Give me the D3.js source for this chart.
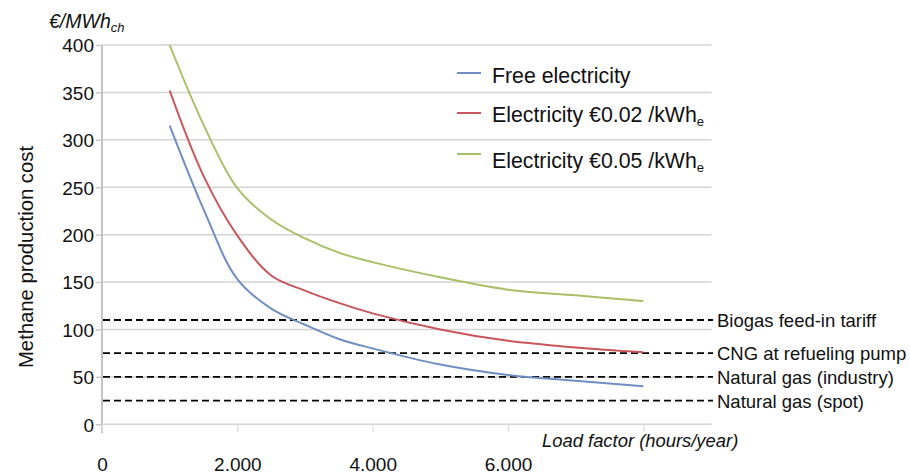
<!DOCTYPE html>
<html><head><meta charset="utf-8">
<script src="https://cdn.jsdelivr.net/npm/d3@7"></script>
<style>
html,body{margin:0;padding:0;background:#fff;}
text{font-family:"Liberation Sans",Arial,sans-serif;fill:#111;}
</style></head>
<body><svg id="c" width="910" height="476"></svg>
<script>
// ---- data ----
const hours = [1000,1500,2000,2500,3000,3500,4000,5000,6000,7000,8000];
const freeElec = [315,227,153,122,105,90,80,63,52,46,40];
const elec002 = [352,262,199,157,141,128,117,100,88,81,76];
const elec005 = [400,316,249,216,196,181,171,155,142,136,130];
const seriesNames = ["Free electricity","Electricity €0.02 /kWh","Electricity €0.05 /kWh"];
const refValues = [110,75,50,25];
const refLabels = ["Biogas feed-in tariff","CNG at refueling pump","Natural gas (industry)","Natural gas (spot)"];
const yTicks = [0,50,100,150,200,250,300,350,400];
const xTicks = [0,2000,4000,6000];

const svg = d3.select("#c");
const x = d3.scaleLinear().domain([0,9000]).range([102,711]);
const y = d3.scaleLinear().domain([0,400]).range([424.3,45]);
const colors = ["#6f8fc2","#c8565b","#a8c068"];

// gridlines
svg.append("g").selectAll("line").data(yTicks).join("line")
  .attr("x1",x(0)).attr("x2",711.5).attr("y1",d=>y(d)).attr("y2",d=>y(d))
  .attr("stroke","#d4d4d4").attr("stroke-width",1.5);

// y axis
const yAxis = svg.append("g").attr("transform",`translate(${x(0)},0)`)
  .call(d3.axisLeft(y).tickValues(yTicks).tickSize(6).tickPadding(2));
yAxis.select(".domain").remove();
yAxis.selectAll(".tick line").attr("stroke","#c8c8c8").attr("stroke-width",1.5);
yAxis.selectAll(".tick text").attr("font-size",19).attr("fill","#111").attr("dy","0.36em")
  .style("font-family","'Liberation Sans',Arial,sans-serif");
svg.append("line").attr("x1",x(0)).attr("x2",x(0)).attr("y1",y(400)).attr("y2",433)
  .attr("stroke","#c4c4c4").attr("stroke-width",2);

// x axis
const loc = d3.formatLocale({decimal:",",thousands:".",grouping:[3],currency:["",""]});
const xAxis = svg.append("g").attr("transform",`translate(0,${y(0)})`)
  .call(d3.axisBottom(x).tickValues([0,2000,4000,6000,8000]).tickSize(8).tickFormat(d=>xTicks.includes(d)?loc.format(",")(d):""));
xAxis.select(".domain").remove();
xAxis.selectAll(".tick line").attr("stroke","#e2e2e2").attr("stroke-width",1.5);
xAxis.selectAll(".tick text").attr("font-size",19).attr("fill","#111").attr("y",46.5).attr("dy",0)
  .style("font-family","'Liberation Sans',Arial,sans-serif");

// reference dashed lines
svg.append("g").selectAll("line").data(refValues).join("line")
  .attr("x1",x(0)+1).attr("x2",713).attr("y1",d=>y(d)).attr("y2",d=>y(d))
  .attr("stroke","#000").attr("stroke-width",1.8).attr("stroke-dasharray","7,4");
svg.append("g").selectAll("text").data(refValues).join("text")
  .attr("x",717).attr("y",d=>y(d)).attr("dy","0.38em").attr("font-size",18.5)
  .text((d,i)=>refLabels[i]);

// curves
const allSeries = [freeElec, elec002, elec005];
const line = d3.line().x((d,i)=>x(hours[i])).y(d=>y(d)).curve(d3.curveCatmullRom.alpha(0.5));
svg.append("g").selectAll("path").data(allSeries).join("path")
  .attr("d",d=>line(d)).attr("fill","none")
  .attr("stroke",(d,i)=>colors[i]).attr("stroke-width",2);

// legend
const legY = [73,113,154];
const legBase = [82.7,121.7,168.3];
const leg = svg.append("g");
seriesNames.forEach((n,i)=>{
  leg.append("line").attr("x1",457).attr("x2",481).attr("y1",legY[i]).attr("y2",legY[i])
    .attr("stroke",colors[i]).attr("stroke-width",2);
  const t = leg.append("text").attr("x",492).attr("y",legBase[i]).attr("font-size",21.3);
  t.append("tspan").text(n);
  if(i>0) t.append("tspan").attr("font-size",13).attr("dy",4).text("e");
});

// axis titles
svg.append("text").attr("transform","translate(33,257) rotate(-90)")
  .attr("text-anchor","middle").attr("font-size",20.3).text("Methane production cost");
const unit = svg.append("text").attr("x",49).attr("y",28.3).attr("font-size",19.5).attr("font-style","italic");
unit.append("tspan").text("€/MWh");
unit.append("tspan").attr("font-size",13).attr("dy",4).text("ch");
svg.append("text").attr("x",542).attr("y",446.7).attr("font-size",18.4).attr("font-style","italic")
  .text("Load factor (hours/year)");
</script></body></html>
